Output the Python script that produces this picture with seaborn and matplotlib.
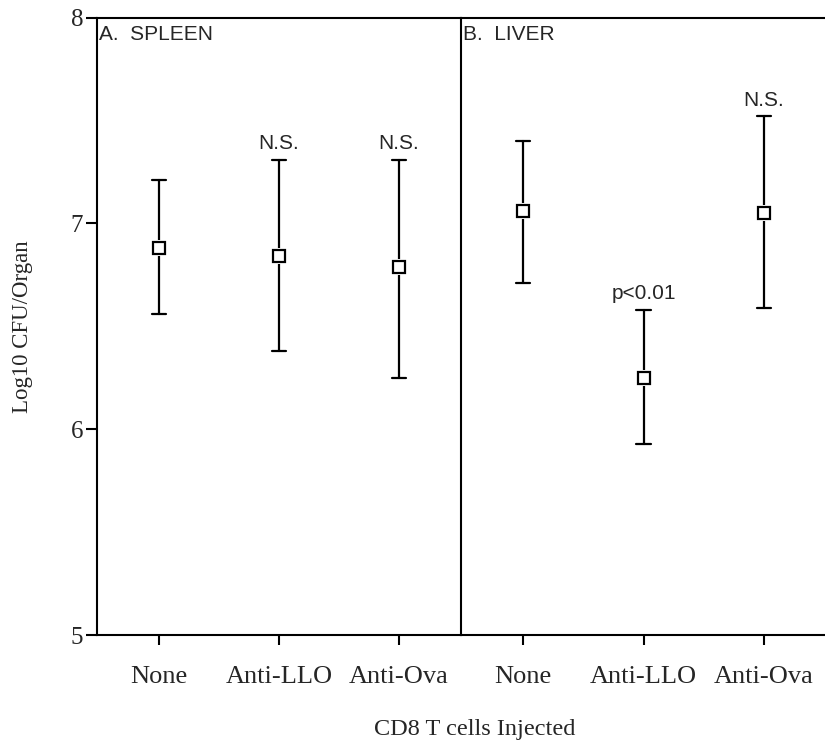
import numpy as np
import pandas as pd
import matplotlib
matplotlib.use("Agg")
import matplotlib.pyplot as plt
import seaborn as sns

# values (log10 CFU per organ)
categories = ["None", "Anti-LLO", "Anti-Ova"]
spleen_mean = [6.88, 6.84, 6.79]
spleen_low = [6.56, 6.38, 6.25]
spleen_high = [7.21, 7.31, 7.31]
liver_mean = [7.06, 6.25, 7.05]
liver_low = [6.71, 5.93, 6.59]
liver_high = [7.40, 6.58, 7.52]
spleen_notes = ["", "N.S.", "N.S."]
liver_notes = ["", "p<0.01", "N.S."]
panel_titles = ["A.  SPLEEN", "B.  LIVER"]
y_ticks = [5, 6, 7, 8]

sns.set_theme(style="white")
plt.rcParams["font.family"] = ["Liberation Serif", "DejaVu Serif"]


def long_table(low, mean, high):
    # three rows per category: median gives the mean, the 100% interval the bar
    rows = []
    for cat, lo, m, hi in zip(categories, low, mean, high):
        for v in (lo, m, hi):
            rows.append({"group": cat, "value": v})
    return pd.DataFrame(rows)


panels = [
    (long_table(spleen_low, spleen_mean, spleen_high), spleen_high, spleen_notes),
    (long_table(liver_low, liver_mean, liver_high), liver_high, liver_notes),
]

fig = plt.figure(figsize=(8.25, 7.46), dpi=100)
ax1 = fig.add_axes([97 / 825, 1 - 635 / 746, 364 / 825, 617.5 / 746])
ax2 = fig.add_axes([461 / 825, 1 - 635 / 746, 365 / 825, 617.5 / 746])
ax2.set_facecolor("none")

for ax, (df, highs, notes), title in zip([ax1, ax2], panels, panel_titles):
    # error bars only
    sns.pointplot(data=df, x="group", y="value", order=categories, ax=ax,
                  estimator="median", errorbar=("pi", 100), capsize=0.12,
                  color="black", linestyle="none", markers="", markersize=0,
                  err_kws={"linewidth": 1.6})
    # white mask leaving a small gap around each square
    sns.pointplot(data=df, x="group", y="value", order=categories, ax=ax,
                  estimator="median", errorbar=None, color="white",
                  linestyle="none", markers="s", markersize=12,
                  markeredgewidth=0)
    # open squares
    sns.pointplot(data=df, x="group", y="value", order=categories, ax=ax,
                  estimator="median", errorbar=None, color="black",
                  linestyle="none", markers="s", markersize=8,
                  markerfacecolor="white", markeredgewidth=1.6)

    for i, (hi, note) in enumerate(zip(highs, notes)):
        if note:
            ax.annotate(note, xy=(i, hi), xytext=(0, 7.5),
                        textcoords="offset points", ha="center",
                        va="baseline", fontsize=15,
                        family=["Liberation Sans", "DejaVu Sans"])

    ax.text(0.006, 0.988, title, transform=ax.transAxes, ha="left", va="top",
            fontsize=15, family=["Liberation Sans", "DejaVu Sans"])

    ax.set_xlim(-0.517, 2.517)
    ax.set_ylim(5, 8)
    ax.set_xlabel("")
    ax.set_ylabel("")
    ax.tick_params(axis="x", direction="out", length=7, width=1.5,
                   color="black", labelsize=19, pad=15, bottom=True)
    for side in ["left", "right", "top", "bottom"]:
        ax.spines[side].set_color("black")
        ax.spines[side].set_linewidth(1.5)

ax1.set_yticks(y_ticks)
ax1.tick_params(axis="y", direction="out", length=8, width=1.5,
                color="black", labelsize=18, pad=2, left=True)
ax1.set_ylabel("Log10 CFU/Organ", fontsize=16.5)
ax1.yaxis.set_label_coords(-0.175, 0.5)

ax2.set_yticks([])
ax2.spines["left"].set_visible(False)
ax2.spines["right"].set_visible(False)

fig.text(475 / 825, 1 - 730 / 746, "CD8 T cells Injected", ha="center",
         va="center", fontsize=17.5)

fig.savefig("out.png", dpi=100)
